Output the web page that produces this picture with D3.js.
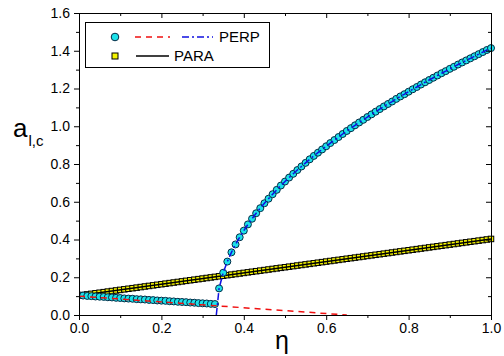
<!DOCTYPE html>
<html>
<head>
<meta charset="utf-8">
<script src="https://cdn.jsdelivr.net/npm/d3@7"></script>
<style>
  body { margin: 0; background: #fff; }
  svg text { font-family: "Liberation Sans", Arial, sans-serif; }
</style>
</head>
<body>
<div id="chart"></div>
<script>
// eta grid of the markers (step 0.01)
var perpLowEta = d3.range(0, 34).map(function (i) { return i / 100; });
var perpLowA = [0.104, 0.103, 0.101, 0.100, 0.098, 0.097, 0.096, 0.094, 0.093, 0.091,
  0.090, 0.088, 0.087, 0.086, 0.084, 0.083, 0.082, 0.080, 0.079, 0.077,
  0.076, 0.075, 0.073, 0.072, 0.070, 0.069, 0.068, 0.066, 0.065, 0.063,
  0.062, 0.061, 0.059, 0.058];

var perpHighEta = d3.range(34, 101).map(function (i) { return i / 100; });
var perpHighA = [0.141, 0.224, 0.283, 0.332, 0.374, 0.412, 0.447, 0.480, 0.510, 0.539,
  0.566, 0.592, 0.616, 0.640, 0.663, 0.686, 0.707, 0.728, 0.748, 0.768,
  0.787, 0.806, 0.825, 0.843, 0.860, 0.877, 0.894, 0.911, 0.927, 0.943,
  0.959, 0.975, 0.990, 1.005, 1.020, 1.034, 1.049, 1.063, 1.077, 1.091,
  1.105, 1.118, 1.131, 1.145, 1.158, 1.170, 1.183, 1.196, 1.208, 1.221,
  1.233, 1.245, 1.257, 1.269, 1.281, 1.292, 1.304, 1.315, 1.327, 1.338,
  1.349, 1.360, 1.371, 1.382, 1.393, 1.404, 1.414];

var paraEta = d3.range(0, 101).map(function (i) { return i / 100; });
var paraA = [0.103, 0.106, 0.109, 0.112, 0.115, 0.118, 0.121, 0.124, 0.127, 0.130,
  0.133, 0.136, 0.139, 0.142, 0.145, 0.148, 0.151, 0.154, 0.157, 0.160,
  0.163, 0.166, 0.169, 0.172, 0.175, 0.178, 0.181, 0.184, 0.187, 0.190,
  0.193, 0.196, 0.199, 0.202, 0.205, 0.208, 0.211, 0.214, 0.217, 0.220,
  0.223, 0.226, 0.229, 0.232, 0.235, 0.238, 0.241, 0.244, 0.247, 0.250,
  0.253, 0.256, 0.259, 0.262, 0.265, 0.268, 0.271, 0.274, 0.277, 0.280,
  0.283, 0.286, 0.289, 0.292, 0.295, 0.298, 0.301, 0.304, 0.307, 0.310,
  0.313, 0.316, 0.319, 0.322, 0.325, 0.328, 0.331, 0.334, 0.337, 0.340,
  0.343, 0.346, 0.349, 0.352, 0.355, 0.358, 0.361, 0.364, 0.367, 0.370,
  0.373, 0.376, 0.379, 0.382, 0.385, 0.388, 0.391, 0.394, 0.397, 0.400,
  0.403];

// theory lines
var perpRedEta = [0, 0.65];
var perpRedA = [0.100, 0.0];
var perpBlueEta = [0.3333].concat(perpHighEta);
var perpBlueA = [0.0].concat(perpHighA);
var paraLineEta = [0, 1];
var paraLineA = [0.103, 0.403];

var xTicks = [0, 0.2, 0.4, 0.6, 0.8, 1.0];
var yTicks = [0, 0.2, 0.4, 0.6, 0.8, 1.0, 1.2, 1.4, 1.6];

var width = 504, height = 356;
var margin = {left: 79, right: 13, top: 13, bottom: 41};
var pw = width - margin.left - margin.right, ph = height - margin.top - margin.bottom;

var svg = d3.select('#chart').append('svg').attr('width', width).attr('height', height);
var g = svg.append('g').attr('transform', 'translate(' + margin.left + ',' + margin.top + ')');

var x = d3.scaleLinear().domain([0, 1]).range([0, pw]);
var y = d3.scaleLinear().domain([0, 1.6]).range([ph, 0]);

svg.append('defs').append('clipPath').attr('id', 'clip')
  .append('rect').attr('x', 0).attr('y', -5).attr('width', pw + 5).attr('height', ph + 5);

function zip(a, b) { return a.map(function (v, i) { return [v, b[i]]; }); }
var line = d3.line().x(function (d) { return x(d[0]); }).y(function (d) { return y(d[1]); });

var plot = g.append('g').attr('clip-path', 'url(#clip)');

// PARA squares + line
plot.selectAll('rect.para').data(zip(paraEta, paraA)).enter().append('rect')
  .attr('class', 'para')
  .attr('x', function (d) { return x(d[0]) - 2.75; })
  .attr('y', function (d) { return y(d[1]) - 2.75; })
  .attr('width', 5.5).attr('height', 5.5)
  .attr('fill', '#f5f500').attr('stroke', '#000').attr('stroke-width', 1);
plot.append('path').datum(zip(paraLineEta, paraLineA)).attr('d', line)
  .attr('fill', 'none').attr('stroke', '#000').attr('stroke-width', 1.5);

// PERP circles
plot.selectAll('circle.perp').data(zip(perpLowEta, perpLowA).concat(zip(perpHighEta, perpHighA)))
  .enter().append('circle').attr('class', 'perp')
  .attr('cx', function (d) { return x(d[0]); })
  .attr('cy', function (d) { return y(d[1]); })
  .attr('r', 3.5)
  .attr('fill', '#1ce2ea').attr('stroke', '#042a45').attr('stroke-width', 1);

plot.append('path').datum(zip(perpRedEta, perpRedA)).attr('d', line)
  .attr('fill', 'none').attr('stroke', '#f01010').attr('stroke-width', 1.5)
  .attr('stroke-dasharray', '6,5');
plot.append('path').datum(zip(perpBlueEta, perpBlueA)).attr('d', line)
  .attr('fill', 'none').attr('stroke', '#1010e0').attr('stroke-width', 1.5)
  .attr('stroke-dasharray', '7,3,2,3');

// axes
var fmt = d3.format('.1f');
function styleAxis(sel) {
  sel.select('.domain').attr('stroke', '#000').attr('stroke-width', 1);
  sel.selectAll('.tick line').attr('stroke', '#000').attr('stroke-width', 1);
  sel.selectAll('.tick text').attr('fill', '#000').style('font-size', '14px')
    .style('font-family', '"Liberation Sans", Arial, sans-serif');
}
var xMinor = d3.range(1, 10, 2).map(function (i) { return i / 10; });
var yMinor = d3.range(1, 16, 2).map(function (i) { return i / 10; });

g.append('g').attr('transform', 'translate(0,' + ph + ')')
  .call(d3.axisBottom(x).tickValues(xTicks).tickFormat(fmt).tickSize(5).tickPadding(3))
  .call(styleAxis);
g.append('g').attr('transform', 'translate(0,' + ph + ')')
  .call(d3.axisBottom(x).tickValues(xMinor).tickFormat('').tickSize(3)).call(styleAxis);
g.append('g')
  .call(d3.axisTop(x).tickValues(xTicks).tickFormat('').tickSize(-5)).call(styleAxis);
g.append('g')
  .call(d3.axisTop(x).tickValues(xMinor).tickFormat('').tickSize(-3)).call(styleAxis);

g.append('g')
  .call(d3.axisLeft(y).tickValues(yTicks).tickFormat(fmt).tickSize(5).tickPadding(4))
  .call(styleAxis);
g.append('g')
  .call(d3.axisLeft(y).tickValues(yMinor).tickFormat('').tickSize(3)).call(styleAxis);
g.append('g').attr('transform', 'translate(' + pw + ',0)')
  .call(d3.axisRight(y).tickValues(yTicks).tickFormat('').tickSize(-5)).call(styleAxis);
g.append('g').attr('transform', 'translate(' + pw + ',0)')
  .call(d3.axisRight(y).tickValues(yMinor).tickFormat('').tickSize(-3)).call(styleAxis);

// axis titles
svg.append('text').attr('x', 282).attr('y', 349).attr('text-anchor', 'middle')
  .style('font-size', '25px').text('η');
var yl = svg.append('text').attr('x', 13).attr('y', 137).style('font-size', '26px');
yl.append('tspan').text('a');
yl.append('tspan').attr('dy', 9).attr('dx', 1).style('font-size', '15px').text('l,c');

// legend
var lg = svg.append('g');
lg.append('rect').attr('x', 85.5).attr('y', 22.5).attr('width', 184).attr('height', 45)
  .attr('fill', '#fff').attr('stroke', '#000').attr('stroke-width', 1);
lg.append('circle').attr('cx', 115).attr('cy', 37).attr('r', 3.8)
  .attr('fill', '#1ce2ea').attr('stroke', '#042a45').attr('stroke-width', 1);
lg.append('line').attr('x1', 135).attr('x2', 170).attr('y1', 37).attr('y2', 37)
  .attr('stroke', '#f01010').attr('stroke-width', 1.5).attr('stroke-dasharray', '6,5');
lg.append('line').attr('x1', 182).attr('x2', 213).attr('y1', 37).attr('y2', 37)
  .attr('stroke', '#1010e0').attr('stroke-width', 1.5).attr('stroke-dasharray', '7,3,2,3');
lg.append('text').attr('x', 219).attr('y', 42).style('font-size', '15px').text('PERP');
lg.append('rect').attr('x', 112).attr('y', 53).attr('width', 6).attr('height', 6)
  .attr('fill', '#f5f500').attr('stroke', '#000').attr('stroke-width', 1);
lg.append('line').attr('x1', 136).attr('x2', 169).attr('y1', 56).attr('y2', 56)
  .attr('stroke', '#000').attr('stroke-width', 1.5);
lg.append('text').attr('x', 174).attr('y', 61).style('font-size', '15px').text('PARA');
</script>
</body>
</html>
